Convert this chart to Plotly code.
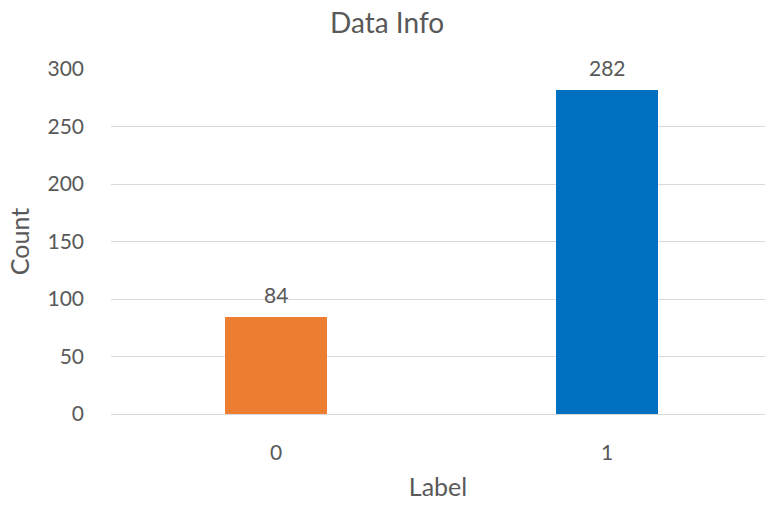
import plotly.graph_objects as go

# Class distribution
labels = ["0", "1"]
counts = [84, 282]
bar_colors = ["#ED7D31", "#0070C0"]
y_ticks = [0, 50, 100, 150, 200, 250, 300]

text_color = "#595959"
font_family = "Lato, 'Open Sans', sans-serif"

fig = go.Figure()
fig.add_trace(go.Bar(
    x=[0, 1],
    y=counts,
    width=0.31,
    marker=dict(color=bar_colors, line=dict(width=0)),
    hoverinfo="skip",
))

# value labels above each bar
for i, c in enumerate(counts):
    fig.add_annotation(
        x=i, y=c, text=str(c), showarrow=False,
        yanchor="bottom", yshift=8,
        font=dict(size=21, color=text_color, family=font_family),
    )

fig.update_layout(
    width=765, height=508,
    margin=dict(l=111, r=0, t=69, b=94),
    paper_bgcolor="white", plot_bgcolor="white",
    showlegend=False,
    font=dict(family=font_family, color=text_color, size=21),
    title=dict(text="Data Info", x=0.506, xanchor="center", y=0.955, yanchor="middle",
               font=dict(size=28, color=text_color, family=font_family)),
    bargap=0,
)
fig.update_xaxes(
    tickmode="array", tickvals=[0, 1], ticktext=labels,
    range=[-0.4985, 1.477],
    showgrid=False, zeroline=False, showline=False,
    ticks="", ticklabelstandoff=24,
    tickfont=dict(size=21, color=text_color),
    title=dict(text="Label", standoff=15, font=dict(size=25, color=text_color)),
)
fig.update_yaxes(
    range=[0, 300], tickvals=y_ticks,
    showgrid=True, gridcolor="#D9D9D9", gridwidth=1,
    zeroline=True, zerolinecolor="#D9D9D9", zerolinewidth=1,
    showline=False, ticks="", ticklabelstandoff=26,
    tickfont=dict(size=21, color=text_color),
    title=dict(text="Count", standoff=10, font=dict(size=25, color=text_color)),
)

fig.write_html("out.html")
